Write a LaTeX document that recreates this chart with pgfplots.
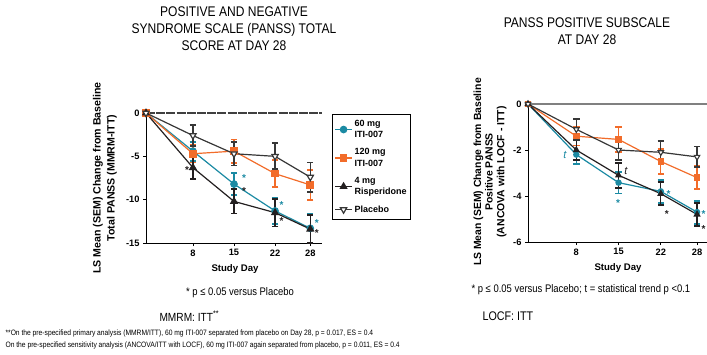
\documentclass[border=0pt]{standalone}
\usepackage{fontspec}
\setmainfont{Liberation Sans}
\newfontfamily\narrow[FakeStretch=0.86]{Liberation Sans}
\usepackage{pgfplots}
\pgfplotsset{compat=1.18}
\definecolor{cteal}{RGB}{27,138,163}
\definecolor{corange}{RGB}{242,108,42}
\definecolor{cblack}{RGB}{35,31,32}
\definecolor{cplac}{RGB}{55,55,55}
\pgfplotsset{
  mystyle/.style={
    scale only axis, axis x line*=bottom, axis y line*=left,
    xmin=0, xmax=30, xtick={8,15,22,28},
    tick align=outside, major tick length=3pt,
    tick style={black, line width=0.8pt},
    axis line style={line width=0.9pt, black},
    tick label style={font=\bfseries\fontsize{9.3}{10}\selectfont},
    /pgf/number format/assume math mode=true,
    clip=false,
  },
  ser/.style={color=#1, line width=1.2pt,
    error bars/y dir=both, error bars/y explicit,
    error bars/error bar style={color=#1, line width=1.3pt},
    error bars/error mark options={color=#1, line width=1.8pt, mark size=3.2pt, rotate=90}},
}
\begin{document}
\begin{tikzpicture}[x=1pt,y=1pt]
\useasboundingbox (0,0) rectangle (707,354);
% ---------------- titles ----------------
\node[align=center, font=\narrow\fontsize{14}{17}\selectfont] at (234,325) {POSITIVE AND NEGATIVE\\SYNDROME SCALE (PANSS) TOTAL\\SCORE AT DAY 28};
\node[align=center, font=\narrow\fontsize{14}{16.5}\selectfont] at (587,323) {PANSS POSITIVE SUBSCALE\\AT DAY 28};
% ---------------- left axis ----------------
\begin{axis}[mystyle, at={(146pt,111pt)}, anchor=south west, width=176pt, height=130pt,
  ymin=-15, ymax=0, ytick={0,-5,-10,-15},
  legend style={at={(axis description cs:1.057,0.995)}, anchor=north west, draw=black, line width=0.8pt,
    font=\bfseries\fontsize{9}{10.5}\selectfont, row sep=5.5pt, inner ysep=4pt, inner xsep=2pt},
  legend cell align=left]
\draw[line width=1.2pt, color=black!75, dash pattern=on 9pt off 1.2pt] (axis cs:0,0) -- (axis cs:30,0);
\addplot[ser=cteal, mark=*, mark size=3.2pt, mark options={solid, fill=cteal}] coordinates {
 (0,0) +- (0,0) (8,-4.4) +- (0,1.1) (15,-8.2) +- (0,1.25) (22,-11.3) +- (0,1.5) (28,-13.3) +- (0,1.65)};
\addlegendentry{\shortstack[l]{60 mg\\ITI-007}}
\addplot[ser=corange, mark=square*, mark size=3.2pt, mark options={solid, fill=corange}] coordinates {
 (0,0) +- (0,0) (8,-4.7) +- (0,1.0) (15,-4.4) +- (0,1.35) (22,-7.0) +- (0,1.55) (28,-8.3) +- (0,1.7)};
\addlegendentry{\shortstack[l]{120 mg\\ITI-007}}
\addplot[ser=cblack, mark=triangle*, mark size=3.6pt, mark options={solid, fill=cblack}] coordinates {
 (0,0) +- (0,0) (8,-6.3) +- (0,1.3) (15,-10.2) +- (0,1.4) (22,-11.5) +- (0,1.6) (28,-13.4) +- (0,1.6)};
\addlegendentry{\shortstack[l]{4 mg\\Risperidone}}
\addplot[ser=cplac, mark=triangle*, mark size=3.6pt, mark options={solid, rotate=180, fill=white, line width=1.2pt}] coordinates {
 (0,0) +- (0,0) (8,-2.6) +- (0,1.25) (15,-4.7) +- (0,1.35) (22,-5.0) +- (0,1.5) (28,-7.4) +- (0,1.7)};
\addlegendentry{Placebo}
\begin{scope}[font=\bfseries\fontsize{10}{10}\selectfont, inner sep=1pt]
\node[cblack] at (axis cs:7.0,-6.6) {*};
\node[cteal] at (axis cs:16.7,-7.5) {*};
\node[cblack] at (axis cs:16.7,-9.0) {*};
\node[cteal] at (axis cs:23.1,-10.6) {*};
\node[cblack] at (axis cs:23.1,-12.5) {*};
\node[cteal] at (axis cs:29.1,-12.7) {*};
\node[cblack] at (axis cs:29.1,-13.9) {*};
\end{scope}
\end{axis}
% ---------------- right axis ----------------
\begin{axis}[mystyle, at={(528pt,112pt)}, anchor=south west, width=179pt, height=138pt,
  xmax=29.65, ymin=-6, ymax=0, ytick={0,-2,-4,-6}]
\draw[line width=1.8pt, color=black!50] (axis cs:0,0) -- (axis cs:29.65,0);
\addplot[ser=cteal, mark=*, mark size=2.6pt, mark options={solid, fill=cteal}] coordinates {
 (0,0) +- (0,0) (8,-2.2) +- (0,0.4) (15,-3.42) +- (0,0.47) (22,-3.8) +- (0,0.5) (28,-4.7) +- (0,0.5)};
\addplot[ser=corange, mark=square*, mark size=2.6pt, mark options={solid, fill=corange}] coordinates {
 (0,0) +- (0,0) (8,-1.4) +- (0,0.4) (15,-1.54) +- (0,0.55) (22,-2.5) +- (0,0.55) (28,-3.2) +- (0,0.5)};
\addplot[ser=cblack, mark=triangle*, mark size=3pt, mark options={solid, fill=cblack}] coordinates {
 (0,0) +- (0,0) (8,-2.0) +- (0,0.45) (15,-3.1) +- (0,0.55) (22,-3.9) +- (0,0.5) (28,-4.8) +- (0,0.5)};
\addplot[ser=cplac, mark=triangle*, mark size=3.2pt, mark options={solid, rotate=180, fill=white, line width=1.1pt}] coordinates {
 (0,0) +- (0,0) (8,-1.1) +- (0,0.45) (15,-2.0) +- (0,0.45) (22,-2.1) +- (0,0.5) (28,-2.3) +- (0,0.45)};
\begin{scope}[font=\bfseries\fontsize{10}{10}\selectfont, inner sep=1pt]
\node[cteal, font=\itshape\fontsize{11}{11}\selectfont] at (axis cs:6.1,-2.2) {t};
\node[cblack, font=\itshape\fontsize{11}{11}\selectfont] at (axis cs:16.2,-2.9) {t};
\node[cteal] at (axis cs:14.9,-4.3) {*};
\node[cteal] at (axis cs:23.3,-3.9) {*};
\node[cblack] at (axis cs:23.0,-4.8) {*};
\node[cteal] at (axis cs:29.1,-4.8) {*};
\node[cblack] at (axis cs:29.1,-5.45) {*};
\end{scope}
\end{axis}
% ---------------- axis labels ----------------
\node[rotate=90, align=center, font=\bfseries\fontsize{10.6}{14}\selectfont] at (105,176) {LS Mean (SEM) Change from Baseline\\Total PANSS (MMRM-ITT)};
\node[rotate=90, align=center, font=\bfseries\fontsize{10.4}{11.6}\selectfont] at (490,182) {LS Mean (SEM) Change from Baseline\\Positive PANSS\\(ANCOVA with LOCF - ITT)};
\node[font=\bfseries\fontsize{9.6}{11}\selectfont] at (235,85) {Study Day};
\node[font=\bfseries\fontsize{9.6}{11}\selectfont] at (618,86) {Study Day};
% ---------------- notes ----------------
\node[font=\narrow\fontsize{11}{12}\selectfont] at (240,61) {* p ≤ 0.05 versus Placebo};
\node[anchor=west, font=\narrow\fontsize{11.8}{13}\selectfont] at (156,38) {MMRM: ITT\textsuperscript{**}};
\node[anchor=west, font=\narrow\fontsize{11}{12}\selectfont] at (468,64) {* p ≤ 0.05 versus Placebo; t = statistical trend p <0.1};
\node[anchor=west, font=\narrow\fontsize{12.5}{13}\selectfont] at (479,38) {LOCF: ITT};
\node[anchor=west, font=\narrow\fontsize{7.8}{9}\selectfont] at (2,21) {**On the pre-specified primary analysis (MMRM/ITT), 60 mg ITI-007 separated from placebo on Day 28, p = 0.017, ES = 0.4};
\node[anchor=west, font=\narrow\fontsize{7.8}{9}\selectfont] at (2,9) {On the pre-specified sensitivity analysis (ANCOVA/ITT with LOCF), 60 mg ITI-007 again separated from placebo, p = 0.011, ES = 0.4};
\end{tikzpicture}
\end{document}
